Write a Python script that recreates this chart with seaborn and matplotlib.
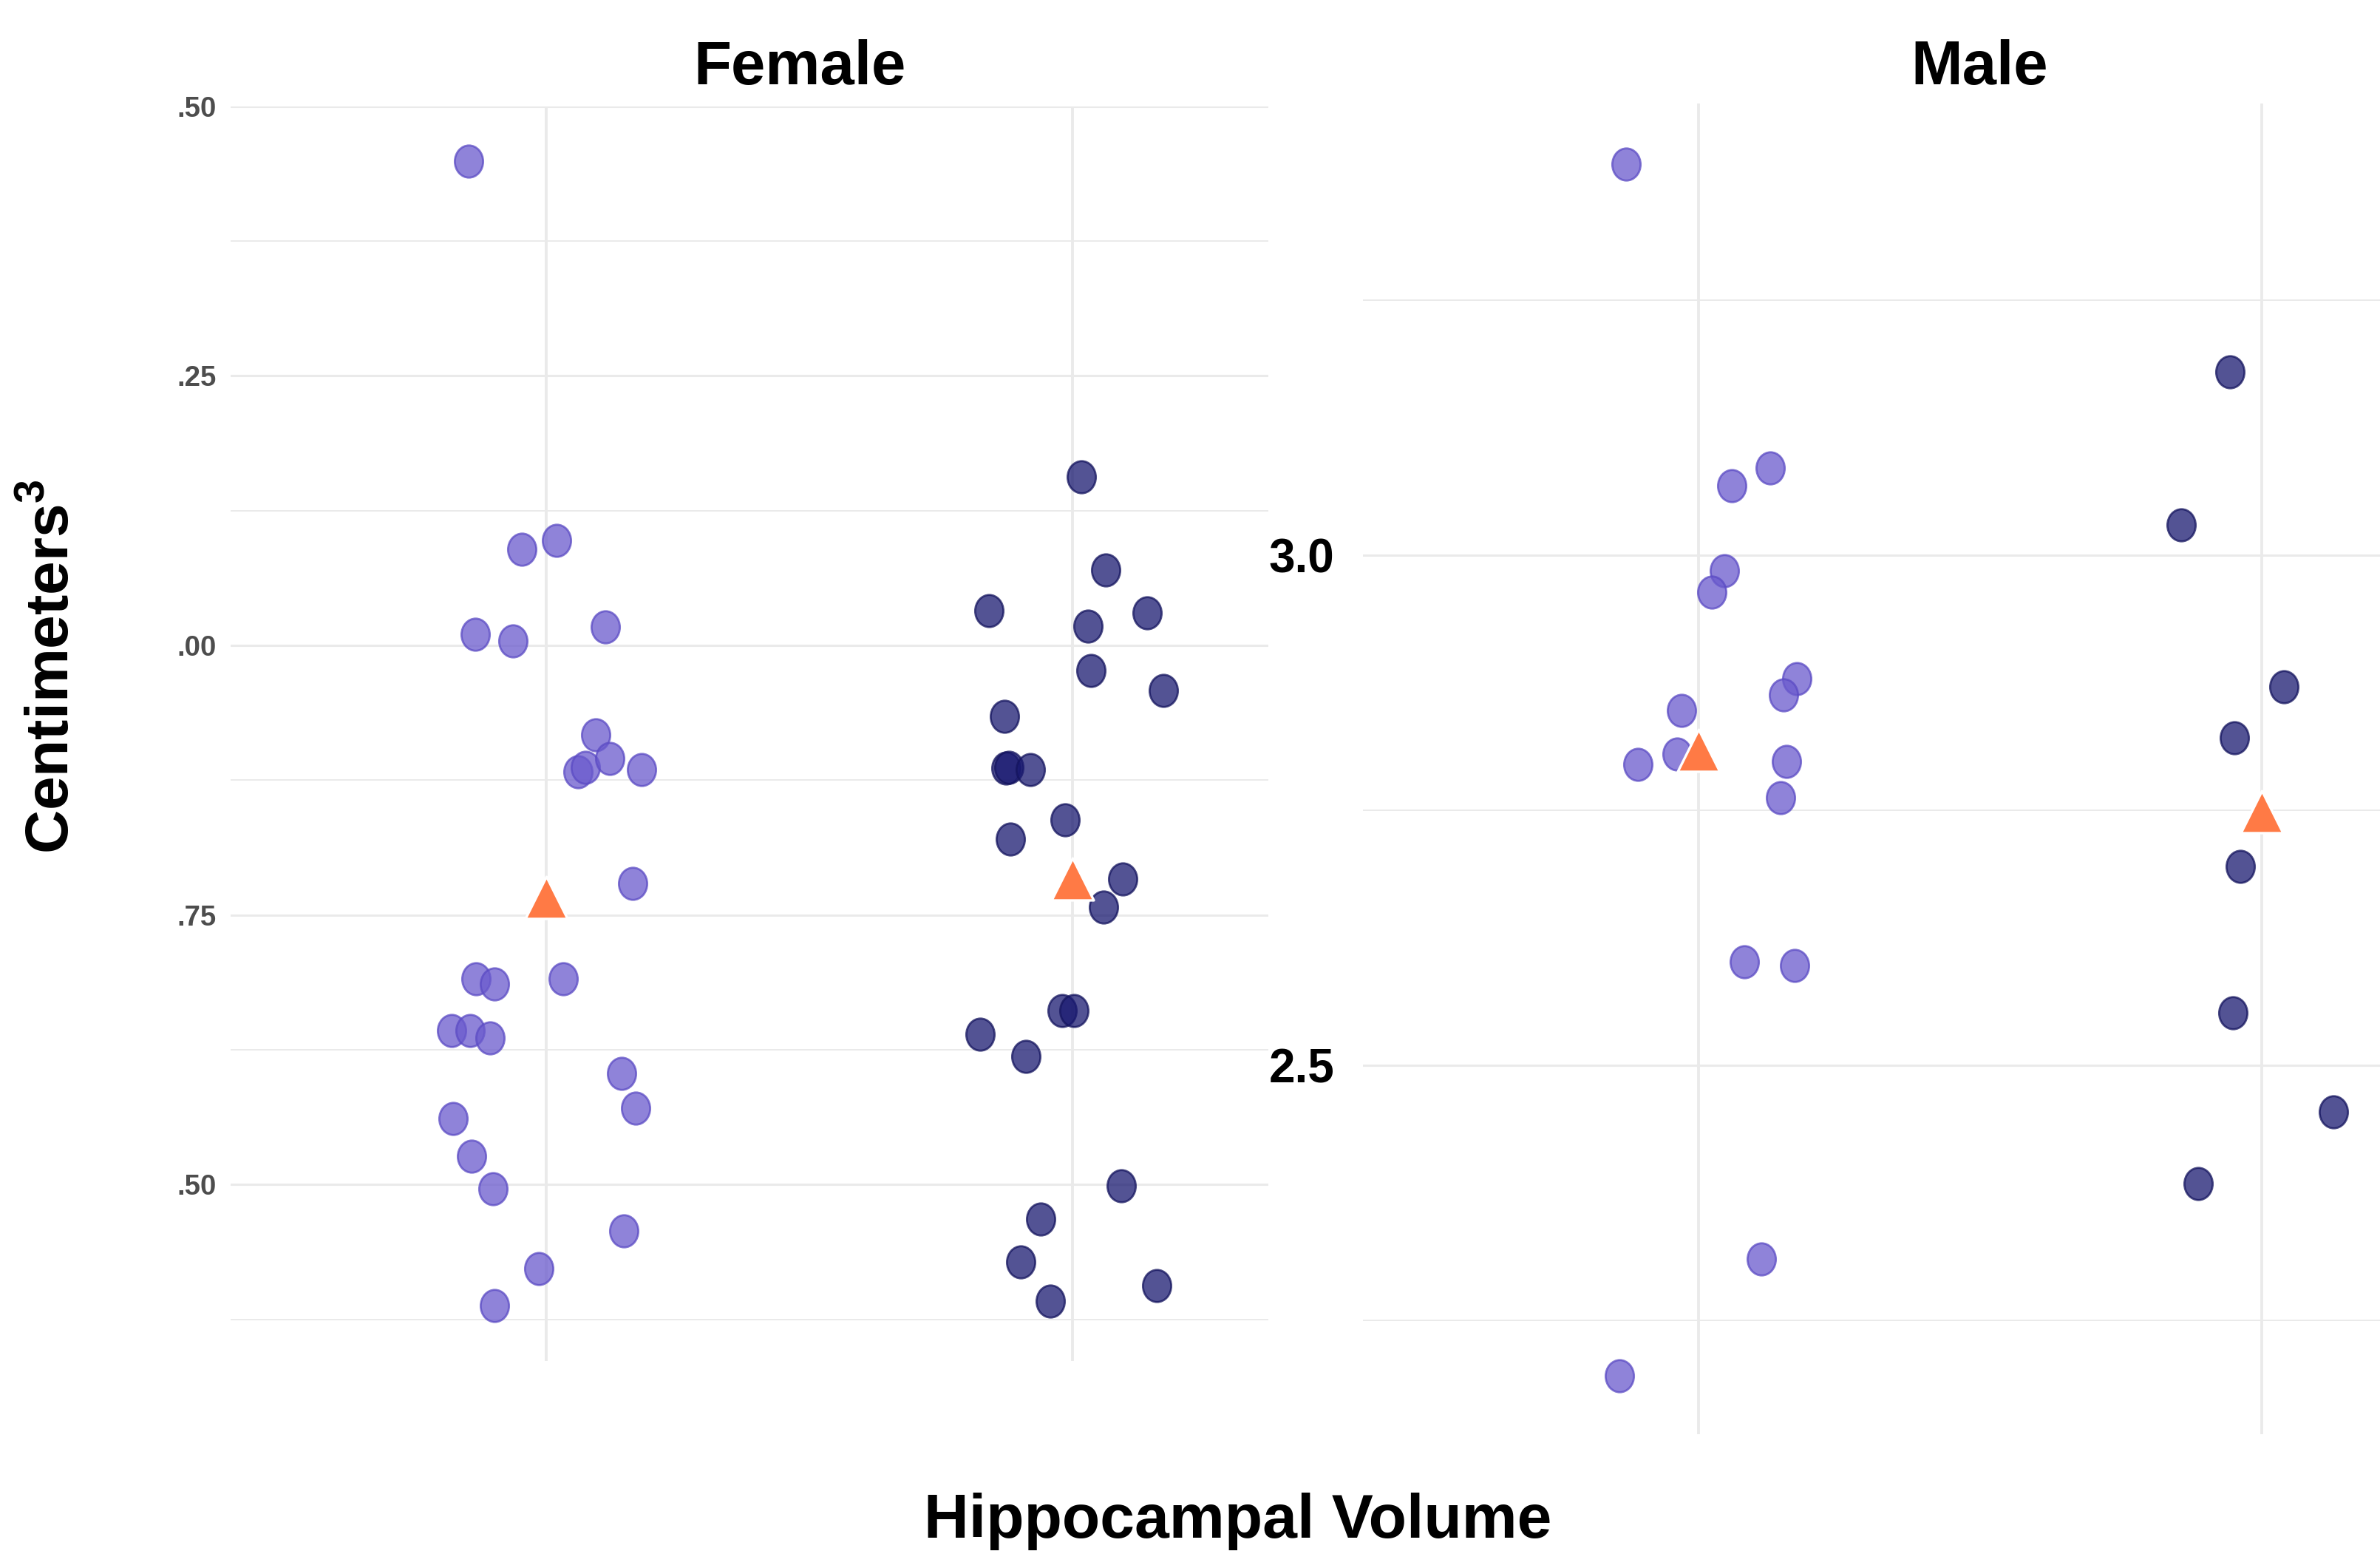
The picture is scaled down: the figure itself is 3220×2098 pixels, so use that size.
import numpy as np
import pandas as pd
import matplotlib.pyplot as plt
import seaborn as sns
from matplotlib.path import Path
from matplotlib.transforms import Affine2D

# --- data (jitter = horizontal offset from group centre) ---
groups = ["A", "B"]

female_a_jitter = [-0.147, -0.046, 0.020, -0.135, -0.063, 0.112, 0.095, 0.061, 0.075,
                   0.121, 0.182, 0.164, -0.133, -0.098, 0.032, -0.179, -0.144, -0.107,
                   0.144, -0.176, 0.170, -0.141, -0.101, 0.147, -0.014, -0.098]
female_a_vol = [3.449, 3.089, 3.097, 3.010, 3.004, 3.017, 2.917, 2.883, 2.887,
                2.895, 2.885, 2.779, 2.691, 2.686, 2.691, 2.643, 2.643, 2.636,
                2.603, 2.561, 2.571, 2.526, 2.496, 2.457, 2.422, 2.388]

female_b_jitter = [0.017, -0.159, 0.063, 0.141, 0.029, 0.173, 0.035, -0.130, -0.127,
                   -0.121, -0.081, -0.014, -0.118, 0.095, 0.058, -0.020, 0.003, -0.176,
                   -0.089, 0.092, -0.061, -0.098, 0.159, -0.043]
female_b_vol = [3.156, 3.032, 3.070, 3.030, 3.018, 2.958, 2.977, 2.934, 2.886,
                2.887, 2.885, 2.838, 2.820, 2.783, 2.757, 2.661, 2.661, 2.639,
                2.619, 2.499, 2.468, 2.428, 2.406, 2.392]

male_a_jitter = [-0.129, 0.127, 0.059, 0.046, 0.024, 0.175, 0.151, -0.030,
                 -0.038, -0.108, 0.156, 0.146, 0.081, 0.170, 0.111, -0.140]
male_a_vol = [3.384, 3.086, 3.068, 2.985, 2.964, 2.879, 2.863, 2.848,
              2.805, 2.795, 2.798, 2.762, 2.601, 2.598, 2.310, 2.195]

male_b_jitter = [-0.057, -0.143, 0.040, -0.049, -0.038, -0.051, 0.127, -0.113]
male_b_vol = [3.180, 3.030, 2.871, 2.821, 2.695, 2.551, 2.454, 2.384]

female_ticks = [2.50, 2.75, 3.00, 3.25, 3.50]
female_ticklabels = [".50", ".75", ".00", ".25", ".50"]
male_ticks = [2.5, 3.0]
male_ticklabels = ["2.5", "3.0"]

# --- long table ---
rows = []
for sex, grp, jit, vol in [("Female", "A", female_a_jitter, female_a_vol),
                           ("Female", "B", female_b_jitter, female_b_vol),
                           ("Male", "A", male_a_jitter, male_a_vol),
                           ("Male", "B", male_b_jitter, male_b_vol)]:
    for j, v in zip(jit, vol):
        rows.append({"sex": sex, "group": grp, "pos": groups.index(grp) + j, "vol": v})
df = pd.DataFrame(rows)

sns.set_theme(style="white")
plt.rcParams["font.family"] = ["Liberation Sans", "DejaVu Sans"]
plt.rcParams["mathtext.fontset"] = "custom"
plt.rcParams["mathtext.bf"] = "Liberation Sans:bold"
plt.rcParams["mathtext.rm"] = "Liberation Sans"

fill = {"A": "#6A5ACD", "B": "#191970"}
edge = {"A": "#5B4BC4", "B": "#14145E"}
ellipse = Path.unit_circle().transformed(Affine2D().scale(0.88, 1.0))
grid_col = "#EAEAEA"

fig = plt.figure(figsize=(16.1, 10.49), dpi=200)

panels = {
    "Female": dict(rect=[0.0969, 0.1223, 0.4361, 0.8092], ylim=(2.336, 3.50), xlim=(-0.599, 1.372),
                   ticks=female_ticks, labels=female_ticklabels, minor=[2.375, 2.625, 2.875, 3.125, 3.375],
                   tcol="#4D4D4D", tsize=13.8, tpad=7),
    "Male": dict(rect=[0.5727, 0.0753, 0.4273, 0.8582], ylim=(2.138, 3.4435), xlim=(-0.596, 1.21),
                 ticks=male_ticks, labels=male_ticklabels, minor=[2.25, 2.75, 3.25],
                 tcol="black", tsize=23, tpad=14),
}

for sex, p in panels.items():
    ax = fig.add_axes(p["rect"])
    sub = df[df["sex"] == sex]

    ax.set_axisbelow(True)
    ax.set_xticks([0, 1])
    ax.set_xticklabels([])
    ax.set_yticks(p["ticks"])
    ax.set_yticklabels(p["labels"])
    ax.set_yticks(p["minor"], minor=True)
    ax.xaxis.grid(True, which="major", color=grid_col, lw=1.4)
    ax.yaxis.grid(True, which="major", color=grid_col, lw=1.1)
    ax.yaxis.grid(True, which="minor", color=grid_col, lw=0.7)
    ax.tick_params(axis="both", which="both", length=0)
    ax.tick_params(axis="y", pad=p["tpad"], labelsize=p["tsize"], labelcolor=p["tcol"])
    for lab in ax.get_yticklabels():
        lab.set_fontweight("bold")
    for s in ax.spines.values():
        s.set_visible(False)

    for grp in groups:
        g = sub[sub["group"] == grp]
        sns.scatterplot(data=g, x="pos", y="vol", ax=ax, marker=ellipse, s=245,
                        color=fill[grp], edgecolor=edge[grp], linewidth=1.0,
                        alpha=0.75, legend=False, zorder=3)

    means = sub.groupby("group", as_index=False)["vol"].mean()
    means["pos"] = [groups.index(g) for g in means["group"]]
    sns.scatterplot(data=means, x="pos", y="vol", ax=ax, marker="^", s=420,
                    color="#FF7A45", edgecolor="white", linewidth=1.2,
                    legend=False, zorder=4)

    ax.set_xlim(*p["xlim"])
    ax.set_ylim(*p["ylim"])
    ax.set_xlabel("")
    ax.set_ylabel("")

fig.text(0.336, 0.956, "Female", ha="center", va="center", fontsize=30, fontweight="bold", color="black")
fig.text(0.8316, 0.956, "Male", ha="center", va="center", fontsize=30, fontweight="bold", color="black")
fig.text(0.52, 0.019, "Hippocampal Volume", ha="center", va="center", fontsize=30.3,
         fontweight="bold", color="black")
fig.text(0.022, 0.57, r"Centimeters$^{\mathbf{3}}$", ha="center", va="center", rotation=90,
         fontsize=29.5, fontweight="bold", color="black")

fig.savefig("out.png", dpi=200, facecolor="white")
